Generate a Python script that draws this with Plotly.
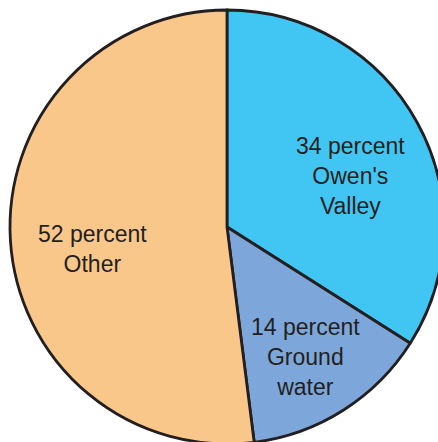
import plotly.graph_objects as go

labels = ["Owen's Valley", "Ground water", "Other"]
label_lines = ["Owen's<br>Valley", "Ground<br>water", "Other"]
values = [34, 14, 52]
colors = ["#41C6F3", "#7DA7DA", "#FAC78B"]

# label centres in pixel space of the page
label_px = [(350, 176), (305, 357), (92, 249)]

W, H = 454, 454
M = 10
PW, PH = W - 2 * M, H - 2 * M

fig = go.Figure(
    go.Pie(
        labels=labels,
        values=values,
        sort=False,
        direction="clockwise",
        rotation=0,
        marker=dict(colors=colors, line=dict(color="#231F20", width=2.8)),
        textinfo="none",
        hoverinfo="label+percent",
        showlegend=False,
    )
)

annotations = []
for v, lab, (px, py) in zip(values, label_lines, label_px):
    annotations.append(
        dict(
            text=f"{v} percent<br>{lab}",
            x=(px - M) / PW,
            y=1 - (py - M) / PH,
            xref="paper",
            yref="paper",
            xanchor="center",
            yanchor="middle",
            showarrow=False,
            font=dict(family="Liberation Sans, Arial, sans-serif", size=23, color="#231F20"),
        )
    )

fig.update_layout(
    width=W,
    height=H,
    margin=dict(l=M, r=M, t=M, b=M),
    paper_bgcolor="white",
    plot_bgcolor="white",
    annotations=annotations,
)

fig.write_html(
    "out.html",
    post_script="document.body.style.margin='0';document.body.style.overflow='hidden';document.documentElement.style.overflow='hidden';",
)
